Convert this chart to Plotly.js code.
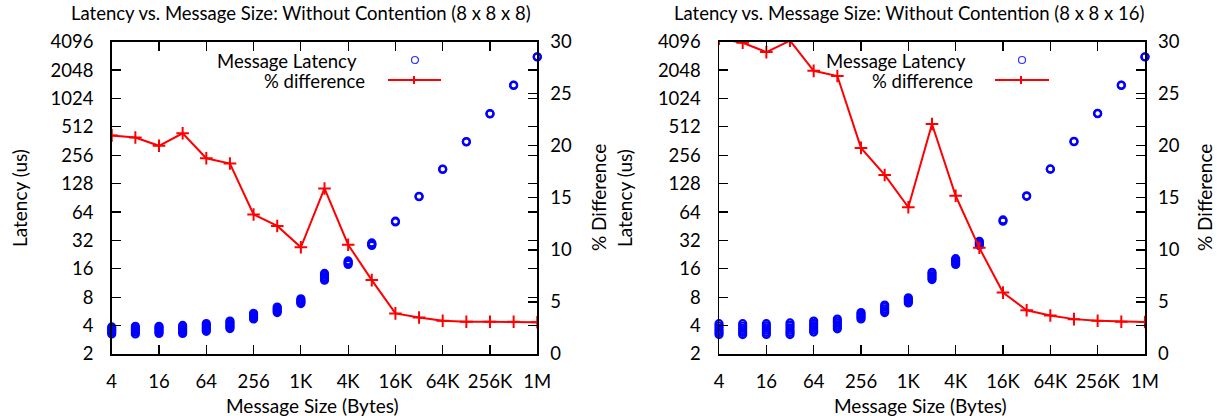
<!DOCTYPE html>
<html>
<head>
<meta charset="utf-8">
<script src="https://cdn.plot.ly/plotly-3.0.1.min.js"></script>
<style>html,body{margin:0;padding:0;background:#fff;}#chart{width:1217px;height:416px;}</style>
</head>
<body>
<div id="chart"></div>
<script>
// ---- data ----
const sizes = [4, 8, 16, 32, 64, 128, 256, 512, 1024, 2048, 4096, 8192, 16384, 32768, 65536, 131072, 262144, 524288, 1048576];
const sizeTickVals = [4, 16, 64, 256, 1024, 4096, 16384, 65536, 262144, 1048576];
const sizeTickText = ["4", "16", "64", "256", "1K", "4K", "16K", "64K", "256K", "1M"];
const latTickVals = [2, 4, 8, 16, 32, 64, 128, 256, 512, 1024, 2048, 4096];
const pctTickVals = [0, 5, 10, 15, 20, 25, 30];

// Latency samples (us) per message size, left chart (8 x 8 x 8)
const latA = [
  [3.26, 3.38, 3.5, 3.62, 3.74, 3.87],
  [3.26, 3.4, 3.54, 3.67, 3.8, 3.94],
  [3.3, 3.43, 3.56, 3.69, 3.82, 3.94],
  [3.3, 3.44, 3.58, 3.72, 3.87, 4.02],
  [3.48, 3.62, 3.76, 3.9, 4.05, 4.2],
  [3.72, 3.87, 4.02, 4.17, 4.32, 4.47],
  [4.7, 4.87, 5.05, 5.22, 5.4],
  [5.5, 5.7, 5.9, 6.1, 6.3],
  [6.85, 7.05, 7.25, 7.45, 7.7],
  [12.1, 12.6, 13.1, 13.7, 14.3],
  [17.8, 18.3, 18.8, 19.4],
  [28.3, 28.9, 29.5, 30.1],
  [50.2, 51.2],
  [93, 94],
  [181, 183],
  [354, 358],
  [703, 708],
  [1410, 1420],
  [2820, 2836]
];
// % difference, left chart
const pctA = [21.0, 20.8, 20.0, 21.2, 18.8, 18.3, 13.4, 12.3, 10.25, 15.9, 10.5, 7.1, 3.9, 3.5, 3.2, 3.1, 3.1, 3.1, 3.05];

// Latency samples (us) per message size, right chart (8 x 8 x 16)
const latB = [
  [3.21, 3.38, 3.56, 3.75, 3.96, 4.19],
  [3.21, 3.38, 3.56, 3.75, 3.96, 4.19],
  [3.22, 3.39, 3.57, 3.76, 3.97, 4.19],
  [3.21, 3.39, 3.58, 3.79, 4.02, 4.27],
  [3.42, 3.6, 3.8, 4.0, 4.22, 4.47],
  [3.7, 3.88, 4.08, 4.28, 4.48, 4.7],
  [4.7, 4.9, 5.1, 5.3, 5.5],
  [5.5, 5.75, 6.0, 6.3, 6.6],
  [6.95, 7.2, 7.45, 7.65, 7.9],
  [12.3, 12.9, 13.5, 14.1, 14.7],
  [17.8, 18.4, 19.1, 19.8, 20.5],
  [28.3, 29.3, 30.3, 31.3],
  [51.2, 52.8],
  [94, 95.2],
  [182, 183.6],
  [356, 360],
  [706, 714],
  [1410, 1422],
  [2820, 2836]
];
// % difference, right chart
const pctB = [30.3, 29.9, 29.0, 30.1, 27.2, 26.7, 19.8, 17.2, 14.1, 22.1, 15.2, 10.2, 5.9, 4.2, 3.7, 3.35, 3.2, 3.1, 3.07];

const titleA = "Latency vs. Message Size: Without Contention (8 x 8 x 8)";
const titleB = "Latency vs. Message Size: Without Contention (8 x 8 x 16)";
const xTitle = "Message Size (Bytes)";
const yTitle = "Latency (us)";
const y2Title = "% Difference";
const legLat = "Message Latency";
const legPct = "% difference";

// ---- build ----
const W = 1217, H = 416;
const px = v => v / W;
const py = v => 1 - v / H;
const FONT = "Lato, 'Open Sans', sans-serif";
const FS = 18.5;

function flatten(lat) {
  const xs = [], ys = [];
  lat.forEach((arr, i) => arr.forEach(v => { xs.push(sizes[i]); ys.push(v); }));
  return {xs, ys};
}
const fA = flatten(latA), fB = flatten(latB);

const blueMarker = {symbol: "circle-open", size: 7, color: "#0000ff", line: {width: 2.2, color: "#0000ff"}};
const redLine = {color: "#ff0000", width: 2};
const redMarker = {symbol: "cross-thin", size: 9, color: "#ff0000", line: {width: 2, color: "#ff0000"}};

const traces = [
  {x: fA.xs, y: fA.ys, xaxis: "x", yaxis: "y", mode: "markers", marker: blueMarker, cliponaxis: false, showlegend: false, hoverinfo: "skip"},
  {x: sizes, y: pctA, xaxis: "x", yaxis: "y2", mode: "lines+markers", line: redLine, marker: redMarker, cliponaxis: true, showlegend: false, hoverinfo: "skip"},
  {x: fB.xs, y: fB.ys, xaxis: "x2", yaxis: "y3", mode: "markers", marker: blueMarker, cliponaxis: false, showlegend: false, hoverinfo: "skip"},
  {x: sizes, y: pctB, xaxis: "x2", yaxis: "y4", mode: "lines+markers", line: redLine, marker: redMarker, cliponaxis: true, showlegend: false, hoverinfo: "skip"}
];

const yDom = [py(354), py(41.7)];
const xr = [Math.log10(4) - 0.0004, Math.log10(1048576) + 0.0004];
const commonX = {
  type: "log", range: xr,
  tickvals: sizeTickVals, ticktext: sizeTickText,
  ticks: "inside", ticklen: 9, tickwidth: 1.2, tickcolor: "#000",
  showline: true, linecolor: "#000", linewidth: 1.5, mirror: "ticks",
  showgrid: false, zeroline: false, ticklabelstandoff: 10,
  tickfont: {family: FONT, size: FS, color: "#000"}
};
const commonY = {
  type: "log", range: [Math.log10(2), Math.log10(4096)], domain: yDom,
  tickvals: latTickVals, ticktext: latTickVals.map(String),
  ticks: "inside", ticklen: 9, tickwidth: 1.2, tickcolor: "#000",
  showline: true, linecolor: "#000", linewidth: 1.5, mirror: "ticks",
  showgrid: false, zeroline: false, ticklabelstandoff: 13,
  tickfont: {family: FONT, size: FS, color: "#000"}
};
const commonY2 = {
  range: [0, 30], tickvals: pctTickVals, side: "right",
  ticks: "inside", ticklen: 9, tickwidth: 1.2, tickcolor: "#000",
  showline: false, showgrid: false, zeroline: false, ticklabelstandoff: 12,
  tickfont: {family: FONT, size: FS, color: "#000"}
};

const ann = [];
function text(t, x, y, opts) {
  ann.push(Object.assign({text: t, x: px(x), y: py(y), xref: "paper", yref: "paper", showarrow: false,
    xanchor: "center", yanchor: "middle", font: {family: FONT, size: FS, color: "#000"}}, opts || {}));
}
const TF = {font: {family: FONT, size: 18.5, color: "#000"}};
const AF = {font: {family: FONT, size: 19, color: "#000"}};
text(titleA, 301, 13, TF);
text(titleB, 909, 13, TF);
text(xTitle, 312, 405, AF);
text(xTitle, 920, 405, AF);
text(yTitle, 19, 198, Object.assign({textangle: -90}, AF));
text(yTitle, 624, 198, Object.assign({textangle: -90}, AF));
text(y2Title, 598, 198, Object.assign({textangle: -90}, AF));
text(y2Title, 1204, 198, Object.assign({textangle: -90}, AF));
// legends
text(legLat, 359, 61, {xanchor: "right"});
text(legPct, 367, 81, {xanchor: "right"});
text(legLat, 968, 61, {xanchor: "right"});
text(legPct, 975, 81, {xanchor: "right"});

const shapes = [];
function legendSym(cx, lx0, lx1) {
  shapes.push({type: "circle", xref: "paper", yref: "paper", x0: px(cx - 3.5), x1: px(cx + 3.5), y0: py(60 + 3.5), y1: py(60 - 3.5),
    line: {color: "#3030ff", width: 1.2}});
  shapes.push({type: "line", xref: "paper", yref: "paper", x0: px(lx0), x1: px(lx1), y0: py(80), y1: py(80),
    line: {color: "#ff0000", width: 2}});
  shapes.push({type: "line", xref: "paper", yref: "paper", x0: px(cx - 1), x1: px(cx - 1), y0: py(76), y1: py(84),
    line: {color: "#ff0000", width: 2}});
}
legendSym(415, 388, 441);
legendSym(1022, 995, 1049);

const layout = {
  width: W, height: H, margin: {l: 0, r: 0, t: 0, b: 0},
  paper_bgcolor: "#fff", plot_bgcolor: "#fff", showlegend: false,
  font: {family: FONT, size: FS, color: "#000"},
  xaxis: Object.assign({}, commonX, {domain: [px(111.7), px(537.3)], anchor: "y"}),
  yaxis: Object.assign({}, commonY, {anchor: "x"}),
  yaxis2: Object.assign({}, commonY2, {overlaying: "y", anchor: "x"}),
  xaxis2: Object.assign({}, commonX, {domain: [px(719), px(1145)], anchor: "y3"}),
  yaxis3: Object.assign({}, commonY, {anchor: "x2"}),
  yaxis4: Object.assign({}, commonY2, {overlaying: "y3", anchor: "x2"}),
  annotations: ann, shapes: shapes
};

Plotly.newPlot("chart", traces, layout, {staticPlot: true, displayModeBar: false});
</script>
</body>
</html>
